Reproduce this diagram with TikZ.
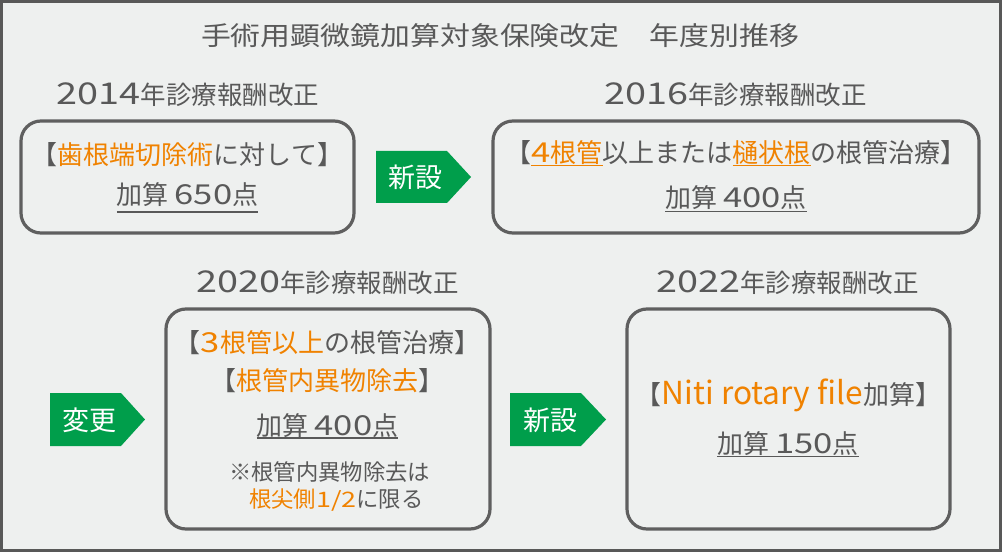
\documentclass[tikz,border=0pt]{standalone}
\usepackage{fontspec}
\setmainfont{Noto Sans CJK JP}
\newfontfamily\ttlfont[FakeStretch=1.15]{Noto Sans CJK JP}
\newfontfamily\digfont[FakeStretch=1.26]{Noto Sans CJK JP}
\newfontfamily\latfont{Noto Sans CJK JP}
\definecolor{bg}{RGB}{238,240,239}
\definecolor{tgray}{RGB}{89,89,89}
\definecolor{bgray}{RGB}{95,95,95}
\definecolor{fgray}{RGB}{88,88,88}
\definecolor{orng}{RGB}{240,130,0}
\definecolor{sgreen}{RGB}{0,158,75}
\newcommand\Dy[1]{{\digfont\fontsize{22.5}{23}\selectfont #1}}
\newcommand\Db[1]{{\digfont\fontsize{20.6}{21}\selectfont #1}}
\newcommand\Ds[1]{{\digfont\fontsize{16}{17}\selectfont #1}}
\newcommand\ulc[2][2.9pt]{\setbox0=\hbox{#2}\rlap{\rule[-#1]{\wd0}{1.1pt}}\box0}
\tikzset{
  txt/.style={inner sep=0pt, text=tgray, font=\fontsize{19.5}{20}\selectfont},
  yearlbl/.style={inner sep=0pt, text=tgray, font=\fontsize{19.1}{20}\selectfont},
  smalltxt/.style={inner sep=0pt, text=tgray, font=\fontsize{16.75}{17}\selectfont},
  signtxt/.style={inner sep=0pt, text=white, font=\fontsize{20.25}{21}\selectfont},
  box/.style={draw=bgray, line width=2.4pt, rounded corners=15pt, inner sep=0pt},
  sign/.style={fill=sgreen},
}
\begin{document}
\begin{tikzpicture}[x=0.75pt, y=-0.75pt]
\useasboundingbox (0,0) rectangle (1002,552);
\fill[bg] (0,0) rectangle (1002,552);
\draw[fgray, line width=2.25pt] (1.5,1.5) rectangle (1000.5,550.5);

% title
\node[inner sep=0pt, text=tgray, font=\ttlfont\fontsize{19.5}{20}\selectfont] (title) at (500,36) {手術用顕微鏡加算対象保険改定　年度別推移};

% year labels
\node[yearlbl] (y1) at (188,94.5) {\Dy{2014}年診療報酬改正};
\node[yearlbl] (y2) at (735.5,94.5) {\Dy{2016}年診療報酬改正};
\node[yearlbl] (y3) at (327.5,283) {\Dy{2020}年診療報酬改正};
\node[yearlbl] (y4) at (787.5,283) {\Dy{2022}年診療報酬改正};

% boxes
\node[box, minimum width=249.75pt, minimum height=84pt] (b1) at (187.5,177) {};
\node[box, minimum width=364.5pt, minimum height=84pt] (b2) at (736,177) {};
\node[box, minimum width=243pt, minimum height=165pt] (b3) at (328,419) {};
\node[box, minimum width=242.25pt, minimum height=165pt] (b4) at (788.5,419) {};

% green signs
\fill[sign] (376,151) -- (447,151) -- (471,177) -- (447,203) -- (376,203) -- cycle;
\fill[sign] (50,393) -- (121,393) -- (145,419.5) -- (121,446) -- (50,446) -- cycle;
\fill[sign] (510,393) -- (581,393) -- (606,419.5) -- (581,446) -- (510,446) -- cycle;
\node[signtxt] (s1) at (415,177) {新設};
\node[signtxt] (s2) at (89,420) {変更};
\node[signtxt] (s3) at (550,420) {新設};

% box 1
\node[txt] (b1a) at (187.5,155) {【\textcolor{orng}{歯根端切除術}に対して】};
\node[txt] (b1b) at (187.5,197.5) {\ulc[6.5pt]{加算 \Db{650}点}};

% box 2
\node[txt] (b2a) at (736,153.5) {【\textcolor{orng}{\ulc[2.6pt]{\Db{4}根管}}以上または\textcolor{orng}{\ulc[2.6pt]{樋状根}}の根管治療】};
\node[txt] (b2b) at (736,199) {\ulc[3.6pt]{加算 \Db{400}点}};

% box 3
\node[txt] (b3a) at (327.5,342.5) {【\textcolor{orng}{\Db{3}根管以上}の根管治療】};
\node[txt] (b3b) at (327.5,380.5) {【\textcolor{orng}{根管内異物除去}】};
\node[txt] (b3c) at (327.5,426) {\ulc{加算 \Db{400}点}};
\node[smalltxt, anchor=west] (b3d) at (229,472) {※根管内異物除去は};
\node[smalltxt, anchor=west] (b3e) at (249,500) {\textcolor{orng}{根尖側\Ds{1/2}}に限る};

% box 4
\node[txt] (b4a) at (788.5,395.5) {【\textcolor{orng}{\latfont\fontsize{23.75}{24}\selectfont Niti rotary file}加算】};
\node[txt] (b4b) at (788,444.5) {\ulc{加算 \Db{150}点}};
\end{tikzpicture}
\end{document}
